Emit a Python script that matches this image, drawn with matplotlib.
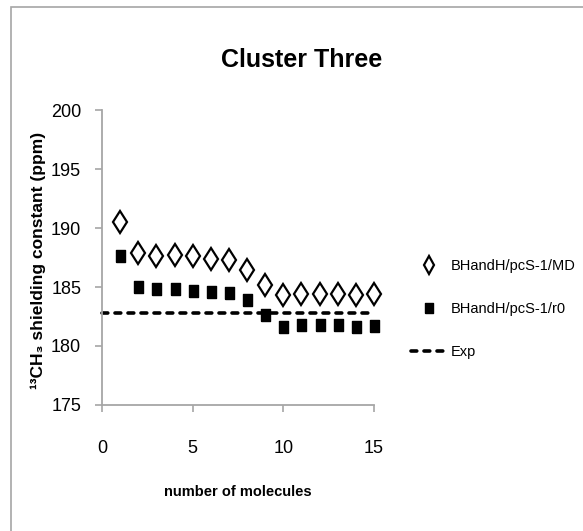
import numpy as np
import matplotlib
matplotlib.use("Agg")
from matplotlib import pyplot as plt
from matplotlib.patches import Rectangle

plt.rcParams['font.family'] = ['Liberation Sans', 'DejaVu Sans']

molecules = [1, 2, 3, 4, 5, 6, 7, 8, 9, 10, 11, 12, 13, 14, 15]
md_values = [190.5, 187.9, 187.6, 187.7, 187.6, 187.4, 187.3, 186.4, 185.2,
             184.3, 184.4, 184.4, 184.4, 184.35, 184.4]
r0_values = [187.6, 185.0, 184.8, 184.8, 184.7, 184.55, 184.5, 183.9, 182.6,
             181.6, 181.75, 181.75, 181.75, 181.6, 181.7]
exp_x = [0, 15]
exp_value = 182.8

grey = '#a6a6a6'
# slightly tall filled rectangle, like the excel marker
tall_square = [(-0.36, -0.5), (0.36, -0.5), (0.36, 0.5), (-0.36, 0.5), (-0.36, -0.5)]

fig = plt.figure(figsize=(5.83, 5.31), dpi=100)
# outer chart frame
fig.patches.append(Rectangle((0.019, -0.02), 1.0, 1.006, transform=fig.transFigure,
                             fill=False, edgecolor=grey, linewidth=1.2))

ax = fig.add_axes([0.175, 0.2373, 0.4665, 0.5555])

ax.plot(molecules, md_values, linestyle='none', marker='d', markersize=11.5,
        markerfacecolor='white', markeredgecolor='black', markeredgewidth=1.6,
        label='BHandH/pcS-1/MD', clip_on=False)
ax.plot(molecules, r0_values, linestyle='none', marker=tall_square, markersize=9,
        color='black', label='BHandH/pcS-1/r0', clip_on=False)
ax.plot(exp_x, [exp_value, exp_value], color='black', linewidth=2.6,
        dashes=(1.6, 2.0), dash_capstyle='round', label='Exp', clip_on=False)

ax.set_xlim(0, 15)
ax.set_ylim(175, 200)
ax.set_xticks([0, 5, 10, 15])
ax.set_yticks([175, 180, 185, 190, 195, 200])

for s in ['top', 'right']:
    ax.spines[s].set_visible(False)
for s in ['left', 'bottom']:
    ax.spines[s].set_color(grey)
    ax.spines[s].set_linewidth(1.3)
ax.tick_params(axis='both', colors=grey, labelcolor='black', labelsize=13,
               length=5, width=1.2, direction='out')
ax.tick_params(axis='x', pad=20)
ax.tick_params(axis='y', pad=10)

fig.text(0.518, 0.887, 'Cluster Three', fontsize=18, fontweight='bold',
         ha='center', va='center')
fig.text(0.408, 0.073, 'number of molecules', fontsize=10.5, fontweight='bold',
         ha='center', va='center')
fig.text(0.066, 0.51, '¹³CH₃ shielding constant (ppm)', fontsize=12.5,
         fontweight='bold', rotation=90, ha='center', va='center')

ax.legend(loc='upper left', bbox_to_anchor=(0.695, 0.523), bbox_transform=fig.transFigure,
          frameon=False, fontsize=10.5, handlelength=2.5, handletextpad=0.25,
          labelspacing=2.0, borderaxespad=0, markerscale=0.8)

fig.savefig('out.png', dpi=100)
